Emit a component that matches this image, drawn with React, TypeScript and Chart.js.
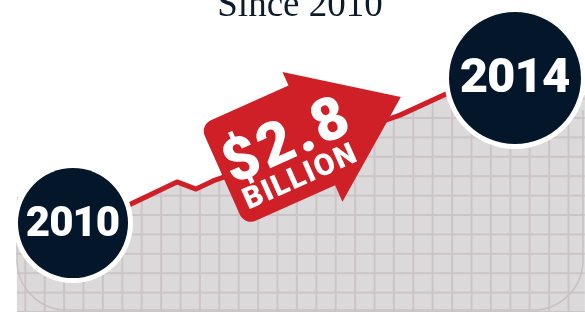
import React, { useEffect, useRef } from "react";
import { Chart, registerables } from "chart.js";

Chart.register(...registerables);

// ---------- data ----------
const titleText = "Since 2010";
const lineYears = [2010.0, 2010.47, 2010.941, 2011.113, 2011.267, 2012.959, 2013.593];
const lineValues = [2.6, 3.37, 4.17, 3.94, 4.2, 6.31, 7.34];
const areaYears = [2009.49, 2010.47, 2010.941, 2011.113, 2011.267, 2012.959, 2013.593, 2014.633];
const areaValues = [3.69, 3.37, 4.17, 3.94, 4.2, 6.31, 7.34, 6.95];
const markerYears = [2010, 2014];
const markerValues = [2.85, 7.5];
const markerLabels = ["2010", "2014"];
const calloutAmount = "$2.8";
const calloutUnit = "BILLION";
const calloutYear = 2011.34;
const calloutValue = 4.47;
const xRange = [2009.3394, 2014.6335];
const yRange = [0, 10];

// ---------- style ----------
const RED = "#cf1f27";
const NAVY = "#04172a";
const FILL = "#dcd9db";
const GRIDC = "#ccc5c7";
const MARKER_R = [55, 66];
const MARKER_FONT = [42, 49];

function makePattern(ctx: CanvasRenderingContext2D) {
  const size = 97;
  const step = 19.4;
  const tile = document.createElement("canvas");
  tile.width = size;
  tile.height = size;
  const t = tile.getContext("2d")!;
  t.fillStyle = FILL;
  t.fillRect(0, 0, size, size);
  t.fillStyle = GRIDC;
  for (let k = 0; k < 5; k++) {
    const p = 5.9 + k * step;
    t.fillRect(p - 1, 0, 2, size);
  }
  for (let k = 0; k < 5; k++) {
    const p = 1.6 + k * step;
    t.fillRect(0, p - 1, size, 2);
  }
  return ctx.createPattern(tile, "repeat")!;
}

const PANEL = { left: 17, right: 583, top: -20, bottom: 310, r: 50 };

function panelPath(ctx: CanvasRenderingContext2D) {
  const { left: L, right: R, top: T, bottom: B, r } = PANEL;
  ctx.beginPath();
  ctx.moveTo(L, T);
  ctx.lineTo(R, T);
  ctx.lineTo(R, B - r);
  ctx.arcTo(R, B, R - r, B, r);
  ctx.lineTo(L + r, B);
  ctx.arcTo(L, B, L, B - r, r);
  ctx.closePath();
}

const decor = {
  id: "decor",
  beforeDatasetDraw(chart: any, args: any) {
    if (args.index !== 1) return;
    const ctx = chart.ctx;
    ctx.save();
    panelPath(ctx);
    ctx.clip();
  },
  afterDatasetDraw(chart: any, args: any) {
    if (args.index !== 1) return;
    const ctx = chart.ctx;
    ctx.restore();
    const { left: L, right: R, bottom: B, r } = PANEL;
    ctx.save();
    ctx.strokeStyle = "#c8c1c3";
    ctx.lineWidth = 1.5;
    ctx.beginPath();
    ctx.moveTo(L, 235);
    ctx.lineTo(L, B - r);
    ctx.arcTo(L, B, L + r, B, r);
    ctx.lineTo(R - r, B);
    ctx.arcTo(R, B, R, B - r, r);
    ctx.lineTo(R, 110);
    ctx.stroke();
    ctx.restore();
  },
  afterDatasetsDraw(chart: any) {
    const ctx: CanvasRenderingContext2D = chart.ctx;
    const xs = chart.scales.x;
    const ys = chart.scales.y;

    // callout arrow
    const ax = xs.getPixelForValue(calloutYear);
    const ay = ys.getPixelForValue(calloutValue);
    ctx.save();
    ctx.translate(ax, ay);
    ctx.rotate((-24 * Math.PI) / 180);
    const top = -52, bot = 58, L = 97, Tip = 195, r = 12;
    ctx.beginPath();
    ctx.moveTo(r, top);
    ctx.lineTo(L, top);
    ctx.lineTo(L, -67);
    ctx.lineTo(Tip, 4);
    ctx.lineTo(L + 2, 76);
    ctx.lineTo(L + 2, bot);
    ctx.lineTo(r, bot);
    ctx.arcTo(0, bot, 0, bot - r, r);
    ctx.lineTo(0, top + r);
    ctx.arcTo(0, top, r, top, r);
    ctx.closePath();
    ctx.fillStyle = RED;
    ctx.fill();

    ctx.fillStyle = "#ffffff";
    ctx.textAlign = "center";
    ctx.textBaseline = "alphabetic";
    (ctx as any).letterSpacing = "3px";
    ctx.font = "900 60px Roboto";
    ctx.fillText(calloutAmount, 72 + 1.5, 16);
    (ctx as any).letterSpacing = "1.5px";
    ctx.font = "900 30px Roboto";
    ctx.fillText(calloutUnit, 70 + 0.75, 45);
    (ctx as any).letterSpacing = "0px";
    ctx.restore();

    // year markers
    markerYears.forEach((yr, i) => {
      const cx = xs.getPixelForValue(yr);
      const cy = ys.getPixelForValue(markerValues[i]);
      const rad = MARKER_R[i];
      ctx.save();
      ctx.beginPath();
      ctx.arc(cx, cy, rad + 5, 0, Math.PI * 2);
      ctx.fillStyle = "#ffffff";
      ctx.fill();
      ctx.beginPath();
      ctx.arc(cx, cy, rad, 0, Math.PI * 2);
      ctx.fillStyle = NAVY;
      ctx.fill();
      ctx.fillStyle = "#ffffff";
      ctx.textAlign = "center";
      ctx.textBaseline = "middle";
      (ctx as any).letterSpacing = "-1px";
      ctx.font = `900 ${MARKER_FONT[i]}px Roboto`;
      ctx.fillText(markerLabels[i], cx - 0.5, cy + 2);
      (ctx as any).letterSpacing = "0px";
      ctx.restore();
    });

    // title
    ctx.save();
    ctx.fillStyle = "#0d1b2a";
    ctx.font = '37px "Liberation Serif"';
    ctx.textAlign = "center";
    ctx.textBaseline = "alphabetic";
    ctx.fillText(titleText, 300, 16);
    ctx.restore();
  },
};

export default function App() {
  const ref = useRef<HTMLCanvasElement | null>(null);
  useEffect(() => {
    const canvas = ref.current!;
    const ctx = canvas.getContext("2d")!;
    const pattern = makePattern(ctx);
    const chart = new Chart(canvas, {
      type: "line",
      data: {
        datasets: [
          {
            label: "Growth",
            data: lineYears.map((x, i) => ({ x, y: lineValues[i] })),
            borderColor: RED,
            borderWidth: 5,
            borderJoinStyle: "round",
            borderCapStyle: "round",
            pointRadius: 0,
            fill: false,
            tension: 0,
          },
          {
            label: "Area",
            data: areaYears.map((x, i) => ({ x, y: areaValues[i] })),
            borderWidth: 0,
            borderColor: "rgba(0,0,0,0)",
            backgroundColor: pattern as any,
            pointRadius: 0,
            fill: "start",
            tension: 0,
          },
        ],
      },
      options: {
        animation: false,
        responsive: false,
        maintainAspectRatio: false,
        devicePixelRatio: 1,
        layout: { padding: 0 },
        scales: {
          x: { type: "linear", display: false, min: xRange[0], max: xRange[1] },
          y: { display: false, min: yRange[0], max: yRange[1] },
        },
        plugins: {
          legend: { display: false },
          tooltip: { enabled: false },
          title: { display: false },
        },
      },
      plugins: [decor],
    });
    return () => chart.destroy();
  }, []);
  return (
    <div style={{ position: "fixed", left: 0, top: 0, width: 585, height: 312 }}>
      <canvas ref={ref} width={585} height={312} style={{ display: "block" }} />
    </div>
  );
}
